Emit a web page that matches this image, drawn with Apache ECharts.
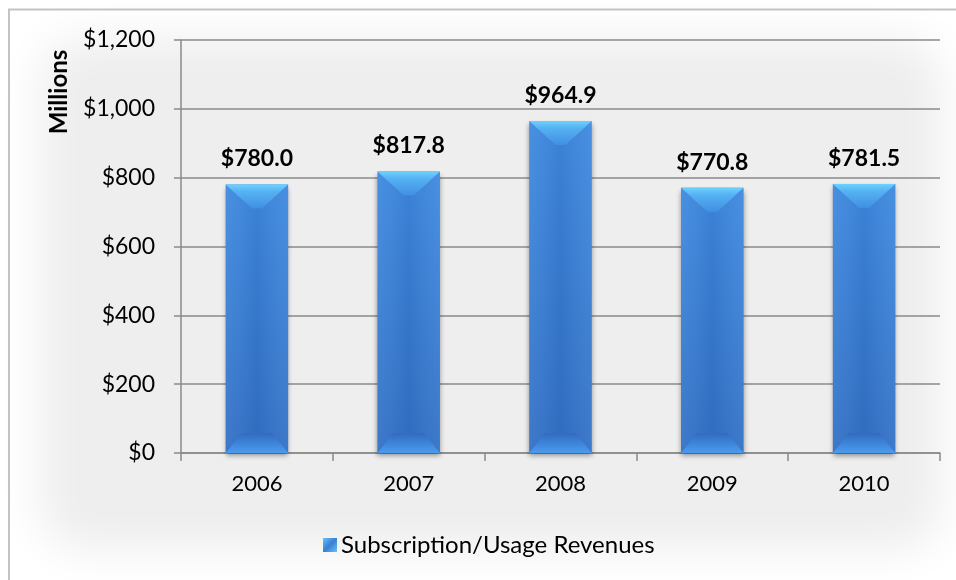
<!DOCTYPE html>
<html>
<head>
<meta charset="utf-8">
<script src="https://cdn.jsdelivr.net/npm/echarts@6/dist/echarts.min.js"></script>
<style>
  html, body { margin: 0; padding: 0; background: #ffffff; }
  #chart { width: 956px; height: 580px; }
</style>
</head>
<body>
<div id="chart"></div>
<script>
// Annual subscription/usage revenues, in millions of dollars
const categories = ['2006', '2007', '2008', '2009', '2010'];
const revenues = [780.0, 817.8, 964.9, 770.8, 781.5];
const seriesName = 'Subscription/Usage Revenues';
const yMin = 0, yMax = 1200, yStep = 200;
const axisName = 'Millions';

const FONT = 'Lato, "Open Sans", sans-serif';

function money(v, digits) {
  return '$' + v.toLocaleString('en-US', { minimumFractionDigits: digits, maximumFractionDigits: digits });
}

// Beveled column: shaded body, light top facet, lighter bottom facet
function renderBar(params, api) {
  const idx = api.value(0);
  const val = api.value(1);
  const top = api.coord([idx, val]);
  const base = api.coord([idx, 0]);
  const w = api.size([1, 0])[0] * 0.412;
  const cx = top[0];
  const x0 = cx - w / 2, x1 = cx + w / 2;
  const yt = top[1], yb = base[1];
  const dTop = Math.min(24, (yb - yt) / 2);
  const dBot = Math.min(20, (yb - yt) / 2);

  const body = {
    type: 'rect',
    shape: { x: x0, y: yt, width: w, height: yb - yt },
    style: {
      fill: new echarts.graphic.LinearGradient(0, 0, 0, 1, [
        { offset: 0, color: '#3f8ae0' },
        { offset: 1, color: '#3371c6' }
      ]),
      shadowColor: 'rgba(0,0,0,0.4)',
      shadowBlur: 5,
      shadowOffsetY: 3
    }
  };
  const shade = {
    type: 'rect',
    shape: { x: x0, y: yt, width: w, height: yb - yt },
    style: {
      fill: new echarts.graphic.LinearGradient(0, 0, 1, 0, [
        { offset: 0, color: 'rgba(255,255,255,0.05)' },
        { offset: 0.5, color: 'rgba(0,20,80,0.07)' },
        { offset: 1, color: 'rgba(255,255,255,0.05)' }
      ])
    }
  };
  const topFacet = {
    type: 'polygon',
    shape: { points: [[x0, yt], [x1, yt], [cx + 5, yt + dTop], [cx - 5, yt + dTop]], smooth: 0 },
    style: {
      fill: new echarts.graphic.LinearGradient(0, 0, 0, 1, [
        { offset: 0, color: '#6cd2fd' },
        { offset: 0.3, color: '#55b2f3' },
        { offset: 1, color: '#418fe2' }
      ])
    }
  };
  const bottomFacet = {
    type: 'polygon',
    shape: { points: [[x0, yb], [x1, yb], [x1 - 16, yb - dBot], [x0 + 16, yb - dBot]] },
    style: {
      fill: new echarts.graphic.LinearGradient(0, 0, 0, 1, [
        { offset: 0, color: '#316bbf' },
        { offset: 1, color: '#4a9cf0' }
      ])
    }
  };
  const label = {
    type: 'text',
    style: {
      x: cx, y: yt - 14,
      text: money(val, 1),
      align: 'center', verticalAlign: 'bottom',
      font: 'bold 23px ' + FONT,
      fill: '#000000'
    }
  };
  return { type: 'group', children: [body, shade, topFacet, bottomFacet, label] };
}

const chart = echarts.init(document.getElementById('chart'), null, { renderer: 'canvas' });

chart.setOption({
  backgroundColor: '#ffffff',
  animation: false,
  textStyle: { fontFamily: FONT },
  graphic: [
    // soft grey panel behind the plot (blurred shape projected via its shadow)
    {
      type: 'rect', z: -10, silent: true,
      shape: { x: 40 - 3000, y: 38, width: 902, height: 512, r: 45 },
      style: { fill: '#efefef', shadowColor: '#eeeeee', shadowBlur: 45, shadowOffsetX: 3000 }
    },
    // frame
    {
      type: 'polyline', z: -5, silent: true,
      shape: { points: [[9, 580], [9, 9.5], [956, 9.5]] },
      style: { stroke: '#c3c3c3', lineWidth: 2, fill: null }
    },
    {
      type: 'text', z: 10,
      x: 59, y: 92, rotation: Math.PI / 2,
      style: {
        text: axisName, font: 'bold 24px ' + FONT, fill: '#000000',
        align: 'center', verticalAlign: 'middle'
      }
    }
  ],
  grid: { left: 181, right: 16, top: 40, bottom: 127, containLabel: false },
  legend: {
    data: [seriesName],
    bottom: 18,
    left: 318,
    icon: 'rect',
    itemWidth: 14, itemHeight: 14, itemGap: 6,
    textStyle: { fontSize: 24, color: '#000000', fontFamily: FONT, padding: [0, 0, 0, -1] }
  },
  xAxis: {
    type: 'category',
    data: categories,
    boundaryGap: true,
    axisLine: { lineStyle: { color: '#8a8a8a', width: 1.5 } },
    axisTick: { show: true, length: 8, inside: false, alignWithLabel: false, lineStyle: { color: '#8a8a8a', width: 1.5 } },
    axisLabel: { fontSize: 22, color: '#000000', margin: 20, fontFamily: FONT },
    splitLine: { show: false }
  },
  yAxis: {
    type: 'value',
    min: yMin, max: yMax, interval: yStep,
    axisLine: { show: true, lineStyle: { color: '#8a8a8a', width: 1.5 } },
    axisTick: { show: true, length: 7, lineStyle: { color: '#8a8a8a', width: 1.5 } },
    axisLabel: { fontSize: 23, color: '#000000', margin: 26, fontFamily: FONT, formatter: v => money(v, 0) },
    splitLine: { show: true, lineStyle: { color: '#8a8a8a', width: 1.5 } }
  },
  series: [{
    name: seriesName,
    type: 'custom',
    renderItem: renderBar,
    encode: { x: 0, y: 1 },
    data: revenues.map((v, i) => [i, v]),
    itemStyle: {
      color: new echarts.graphic.LinearGradient(0, 0, 1, 1, [
        { offset: 0, color: '#62c4f6' },
        { offset: 0.5, color: '#3a7fd3' },
        { offset: 1, color: '#62c4f6' }
      ])
    },
    z: 3
  }]
});
</script>
</body>
</html>
